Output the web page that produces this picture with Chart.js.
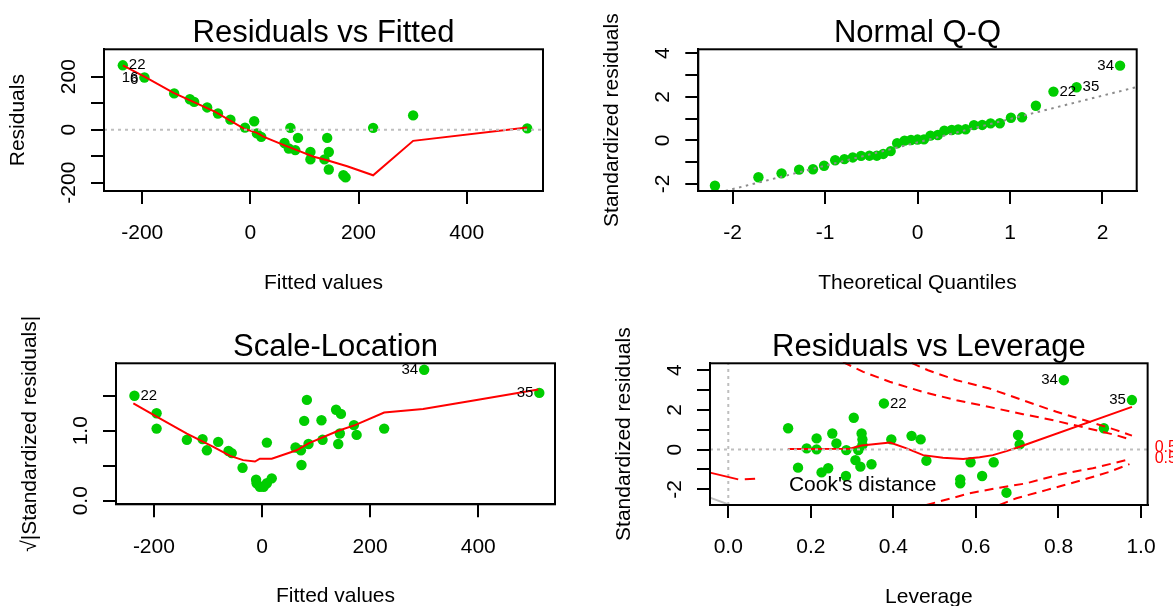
<!DOCTYPE html>
<html>
<head>
<meta charset="utf-8">
<script src="https://cdn.jsdelivr.net/npm/chart.js@4.4.1/dist/chart.umd.min.js"></script>
<style>
  html, body { margin: 0; padding: 0; background: #fff; }
  #wrap { position: relative; width: 1173px; height: 606px; }
  #wrap canvas { position: absolute; left: 0; top: 0; }
</style>
</head>
<body>
<div id="wrap">
  <canvas id="rf" width="1173" height="606"></canvas>
  <canvas id="qq" width="1173" height="606"></canvas>
  <canvas id="sl" width="1173" height="606"></canvas>
  <canvas id="lv" width="1173" height="606"></canvas>
</div>
<script>
const W = 1173, H = 606, TICK = 13, XAXIS_H = 70;
const FONT = '"Liberation Sans", Arial, Helvetica, sans-serif';
const GREEN = '#00CD00', RED = '#FF0000', LIGHTGRAY = '#BEBEBE', MIDGRAY = '#8C8C8C';

// --- Residuals vs Fitted ---
const rfFitted = [-236, -196, -141, -112, -104, -80, -60, -37, -10, 7, 12, 20, 63, 74, 71, 83, 88, 111, 111, 137, 142, 145, 145, 172, 176, 227, 301, 512];
const rfResid  = [243, 197, 137, 115, 105, 84, 61, 38, 8, 32, -14, -27, -50, 7, -71, -77, -31, -84, -112, -112, -31, -84, -150, -172, -180, 7, 54, 5];
const rfSmoothX = [-236, -196, -142, -65, -12, 12, 25, 62, 86, 117, 142, 179, 227, 301, 512];
const rfSmoothY = [243, 200, 139, 67, 4, -12, -27, -58, -77, -102, -115, -138, -172, -42, 8];
const rfXRange = [-270.8, 541.2];
const rfYRange = [-231.3, 303.4];
const rfXTicks = [-200, 0, 200, 400];
const rfXLabels = ['-200', '0', '200', '400'];
const rfYTicks = [-200, -100, 0, 100, 200];
const rfYLabels = ['-200', '', '0', '', '200'];
const rfLabText = ['22', '16', '6'];
const rfLabX = [-236, -196, -196];
const rfLabY = [243, 197, 187];
const rfLabSide = [1, -1, -1];

// --- Normal Q-Q ---
const qqTheo = [-2.19, -1.72, -1.47, -1.28, -1.13, -1.01, -0.89, -0.79, -0.70, -0.61, -0.52, -0.44, -0.37, -0.29, -0.22, -0.14, -0.07, 0,
                0.07, 0.14, 0.22, 0.29, 0.37, 0.44, 0.52, 0.61, 0.70, 0.79, 0.89, 1.01, 1.13, 1.28, 1.47, 1.72, 2.19];
const qqStd  = [-2.08, -1.69, -1.51, -1.34, -1.32, -1.16, -0.91, -0.86, -0.78, -0.71, -0.70, -0.70, -0.62, -0.49, -0.13, -0.01, 0.02, 0.04,
                0.05, 0.22, 0.25, 0.45, 0.48, 0.50, 0.51, 0.70, 0.71, 0.78, 0.79, 1.04, 1.06, 1.59, 2.24, 2.44, 3.43];
const qqLineX = [-2.37, 2.37];
const qqLineY = [-2.63, 2.45];
const qqXRange = [-2.37, 2.37];
const qqYRange = [-2.32, 4.18];
const qqXTicks = [-2, -1, 0, 1, 2];
const qqXLabels = ['-2', '-1', '0', '1', '2'];
const qqYTicks = [-2, -1, 0, 1, 2, 3, 4];
const qqYLabels = ['-2', '', '0', '', '2', '', '4'];
const qqLabText = ['34', '22', '35'];
const qqLabX = [2.19, 1.47, 1.72];
const qqLabY = [3.43, 2.24, 2.44];
const qqLabSide = [-1, 1, 1];

// --- Scale-Location ---
const slFitted = [-236, -195, -195, -139, -110, -102, -81, -62, -56, -36, -11, -10, -4, 3, 9, 18, 9, 62, 73, 72, 78, 83, 86, 110, 112, 137, 146, 141, 144, 170, 175, 226, 300, 513];
const slRoot   = [1.50, 1.25, 1.03, 0.87, 0.88, 0.72, 0.84, 0.71, 0.68, 0.47, 0.30, 0.25, 0.20, 0.20, 0.25, 0.32, 0.83, 0.76, 0.51, 0.72, 1.14, 1.44, 0.81, 1.15, 0.87, 1.30, 1.24, 0.81, 0.96, 1.08, 0.94, 1.03, 1.87, 1.54];
const slSmoothX = [-238, -195, -139, -90, -59, -35, -13, -4, 18, 64, 86, 141, 172, 226, 298, 397, 511];
const slSmoothY = [1.39, 1.20, 0.96, 0.77, 0.64, 0.58, 0.56, 0.60, 0.60, 0.72, 0.82, 1.00, 1.08, 1.26, 1.31, 1.44, 1.59];
const slXRange = [-270.1, 542];
const slYRange = [-0.051, 1.963];
const slXTicks = [-200, 0, 200, 400];
const slXLabels = ['-200', '0', '200', '400'];
const slYTicks = [0, 0.5, 1, 1.5];
const slYLabels = ['0.0', '', '1.0', ''];
const slLabText = ['22', '34', '35'];
const slLabX = [-236, 300, 513];
const slLabY = [1.50, 1.87, 1.54];
const slLabSide = [1, -1, -1];

// --- Residuals vs Leverage ---
const lvLev = [0.145, 0.169, 0.19, 0.214, 0.214, 0.226, 0.242, 0.252, 0.262, 0.285, 0.286, 0.304, 0.308, 0.315, 0.32, 0.323, 0.325, 0.325,
               0.347, 0.377, 0.395, 0.444, 0.466, 0.48, 0.562, 0.562, 0.587, 0.615, 0.643, 0.674, 0.702, 0.706, 0.813, 0.91, 0.978];
const lvStd = [1.07, -0.91, 0.06, 0.56, 0.01, -1.15, -0.94, 0.81, 0.31, -1.33, -0.03, 1.60, -0.53, -0.03, -0.86, 0.81, 0.51, 0.23,
               -0.74, 2.32, 0.51, 0.69, 0.51, -0.56, -1.50, -1.70, -0.64, -1.33, -0.64, -2.17, 0.73, 0.26, 3.49, 1.07, 2.49];
const lvSmoothX = [0.145, 0.294, 0.323, 0.392, 0.432, 0.472, 0.52, 0.569, 0.609, 0.641, 0.674, 0.706, 0.978];
const lvSmoothY = [0.03, 0.04, 0.20, 0.35, 0.06, -0.28, -0.41, -0.48, -0.39, -0.28, -0.08, 0.14, 2.15];
const cookHalfUpX = [0.278, 0.327, 0.391, 0.472, 0.553, 0.633, 0.714, 0.795, 0.875, 0.94, 0.978];
const cookHalfUpY = [4.40, 3.91, 3.41, 2.90, 2.48, 2.14, 1.78, 1.44, 1.05, 0.72, 0.48];
const cookOneUpX = [0.444, 0.484, 0.553, 0.633, 0.714, 0.795, 0.875, 0.94, 0.978];
const cookOneUpY = [4.36, 3.99, 3.49, 3.07, 2.48, 1.90, 1.40, 0.98, 0.70];
const cookHalfLoX = [0.48, 0.585, 0.657, 0.722, 0.803, 0.883, 0.972];
const cookHalfLoY = [-2.79, -2.20, -1.92, -1.70, -1.25, -0.94, -0.49];
const cookOneLoX = [0.657, 0.698, 0.77, 0.843, 0.924, 0.972];
const cookOneLoY = [-2.79, -2.45, -2.04, -1.62, -1.12, -0.73];
const legSolidX = [-0.0443, 0.024];
const legSolidY = [-1.16, -1.50];
const legDashX = [0.040, 0.065];
const legDashY = [-1.50, -1.47];
const greySegX = [-0.0443, 0.004];
const greySegY = [-2.42, -2.79];
const lvXRange = [-0.0443, 1.016];
const lvYRange = [-2.79, 4.34];
const lvXTicks = [0, 0.2, 0.4, 0.6, 0.8, 1.0];
const lvXLabels = ['0.0', '0.2', '0.4', '0.6', '0.8', '1.0'];
const lvYTicks = [-2, -1, 0, 1, 2, 3, 4];
const lvYLabels = ['-2', '', '0', '', '2', '', '4'];
const lvLabText = ['22', '34', '35'];
const lvLabX = [0.377, 0.813, 0.978];
const lvLabY = [2.32, 3.49, 2.49];
const lvLabSide = [1, -1, -1];
const cookLevelText = ['0.5', '0.5'];
const cookLevelX = [1.033, 1.033];
const cookLevelY = [0.11, -0.44];

const pts = (xs, ys) => xs.map((v, i) => ({ x: v, y: ys[i] }));

const dots = (xs, ys) => ({
    data: pts(xs, ys),
    pointRadius: 5.2,
    pointBackgroundColor: GREEN,
    pointBorderWidth: 0,
    showLine: false
});

const line = (xs, ys, color, dash) => ({
    data: pts(xs, ys),
    showLine: true,
    borderColor: color,
    borderWidth: 2,
    borderDash: dash || [],
    pointRadius: 0,
    tension: 0,
    clip: 1
});

const labels = (text, xs, ys, side) => text.map((t, i) => ({ text: t, x: xs[i], y: ys[i], side: side[i] }));

function drawDecor(chart, p) {
    const { ctx, chartArea: a } = chart;
    const xs = chart.scales.x, ys = chart.scales.y;
    const cx = (a.left + a.right) / 2, cy = (a.top + a.bottom) / 2;
    ctx.save();
    ctx.strokeStyle = '#000';
    ctx.lineWidth = 2;
    ctx.strokeRect(a.left, a.top, a.right - a.left, a.bottom - a.top);

    ctx.fillStyle = '#000';
    ctx.textAlign = 'center';
    ctx.textBaseline = 'alphabetic';
    ctx.font = `31px ${FONT}`;
    ctx.fillText(p.title, cx, a.top - 7.6);

    ctx.font = `21px ${FONT}`;
    ctx.textBaseline = 'middle';
    ctx.fillText(p.xlab, cx, a.bottom + 92);

    ctx.save();
    ctx.translate(a.left - 86, cy);
    ctx.rotate(-Math.PI / 2);
    ctx.fillText(p.ylab, 0, 0);
    ctx.restore();

    // y tick labels, rotated like R's default las = 0
    p.yTicks.forEach((v, i) => {
        if (!p.yLabels[i]) return;
        ctx.save();
        ctx.translate(a.left - 35, ys.getPixelForValue(v));
        ctx.rotate(-Math.PI / 2);
        ctx.fillText(p.yLabels[i], 0, 0);
        ctx.restore();
    });

    // point ids
    ctx.font = `15px ${FONT}`;
    for (const n of p.notes) {
        ctx.textAlign = n.side > 0 ? 'left' : 'right';
        ctx.fillText(n.text, xs.getPixelForValue(n.x) + 6 * n.side, ys.getPixelForValue(n.y));
    }
    for (const n of (p.extra || [])) {
        ctx.font = `${n.size}px ${FONT}`;
        ctx.fillStyle = n.color;
        ctx.textAlign = 'left';
        ctx.fillText(n.text, xs.getPixelForValue(n.x), ys.getPixelForValue(n.y));
    }
    ctx.restore();
}

function makePanel(id, p) {
    const [bl, bt, br, bb] = p.box;
    const axisStyle = {
        grid: { drawOnChartArea: false, drawTicks: true, tickLength: TICK, color: '#000', lineWidth: 2 },
        border: { display: true, color: '#000', width: 2 }
    };
    return new Chart(document.getElementById(id), {
        type: 'scatter',
        data: { datasets: p.datasets },
        options: {
            responsive: false,
            animation: false,
            events: [],
            layout: { padding: { left: bl - TICK, top: bt, right: W - br, bottom: H - bb - XAXIS_H } },
            plugins: { legend: { display: false }, tooltip: { enabled: false } },
            scales: {
                x: {
                    type: 'linear',
                    position: 'bottom',
                    min: p.xRange[0],
                    max: p.xRange[1],
                    afterBuildTicks: s => { s.ticks = p.xTicks.map(v => ({ value: v })); },
                    afterFit: s => { s.height = XAXIS_H; },
                    ticks: {
                        autoSkip: false, maxRotation: 0, minRotation: 0, padding: 17,
                        color: '#000', font: { family: FONT, size: 21 },
                        callback: (v, i) => p.xLabels[i]
                    },
                    ...axisStyle
                },
                y: {
                    type: 'linear',
                    position: 'left',
                    min: p.yRange[0],
                    max: p.yRange[1],
                    afterBuildTicks: s => { s.ticks = p.yTicks.map(v => ({ value: v })); },
                    afterFit: s => { s.width = TICK; },
                    ticks: { display: false },
                    ...axisStyle
                }
            }
        },
        plugins: [{ id: 'decor', afterDraw: chart => drawDecor(chart, p) }]
    });
}

makePanel('rf', {
    box: [104, 49.3, 543, 191],
    title: 'Residuals vs Fitted', xlab: 'Fitted values', ylab: 'Residuals',
    xRange: rfXRange, yRange: rfYRange,
    xTicks: rfXTicks, xLabels: rfXLabels, yTicks: rfYTicks, yLabels: rfYLabels,
    notes: labels(rfLabText, rfLabX, rfLabY, rfLabSide),
    datasets: [
        line(rfXRange, [0, 0], LIGHTGRAY, [3, 4]),
        line(rfSmoothX, rfSmoothY, RED),
        dots(rfFitted, rfResid)
    ]
});

makePanel('qq', {
    box: [698.3, 49.3, 1136.7, 191],
    title: 'Normal Q-Q', xlab: 'Theoretical Quantiles', ylab: 'Standardized residuals',
    xRange: qqXRange, yRange: qqYRange,
    xTicks: qqXTicks, xLabels: qqXLabels, yTicks: qqYTicks, yLabels: qqYLabels,
    notes: labels(qqLabText, qqLabX, qqLabY, qqLabSide),
    datasets: [
        line(qqLineX, qqLineY, MIDGRAY, [2.5, 4.5]),
        dots(qqTheo, qqStd)
    ]
});

makePanel('sl', {
    box: [116, 363.3, 555, 504.3],
    title: 'Scale-Location', xlab: 'Fitted values', ylab: '\u221A|Standardized residuals|',
    xRange: slXRange, yRange: slYRange,
    xTicks: slXTicks, xLabels: slXLabels, yTicks: slYTicks, yLabels: slYLabels,
    notes: labels(slLabText, slLabX, slLabY, slLabSide),
    datasets: [
        line(slSmoothX, slSmoothY, RED),
        dots(slFitted, slRoot)
    ]
});

makePanel('lv', {
    box: [710, 363.3, 1148.3, 505],
    title: 'Residuals vs Leverage', xlab: 'Leverage', ylab: 'Standardized residuals',
    xRange: lvXRange, yRange: lvYRange,
    xTicks: lvXTicks, xLabels: lvXLabels, yTicks: lvYTicks, yLabels: lvYLabels,
    notes: labels(lvLabText, lvLabX, lvLabY, lvLabSide),
    extra: [
        { text: "Cook's distance", x: 0.147, y: -1.78, size: 21, color: '#000' },
        ...cookLevelText.map((t, i) => ({ text: t, x: cookLevelX[i], y: cookLevelY[i], size: 16, color: RED }))
    ],
    datasets: [
        line(cookHalfUpX, cookHalfUpY, RED, [9, 6]),
        line(cookOneUpX, cookOneUpY, RED, [9, 6]),
        line(cookHalfLoX, cookHalfLoY, RED, [9, 6]),
        line(cookOneLoX, cookOneLoY, RED, [9, 6]),
        line(legSolidX, legSolidY, RED),
        line(legDashX, legDashY, RED),
        line(greySegX, greySegY, LIGHTGRAY),
        line(lvXRange, [0, 0], LIGHTGRAY, [3, 4]),
        line([0, 0], lvYRange, LIGHTGRAY, [3, 4]),
        line(lvSmoothX, lvSmoothY, RED),
        dots(lvLev, lvStd)
    ]
});
</script>
</body>
</html>
